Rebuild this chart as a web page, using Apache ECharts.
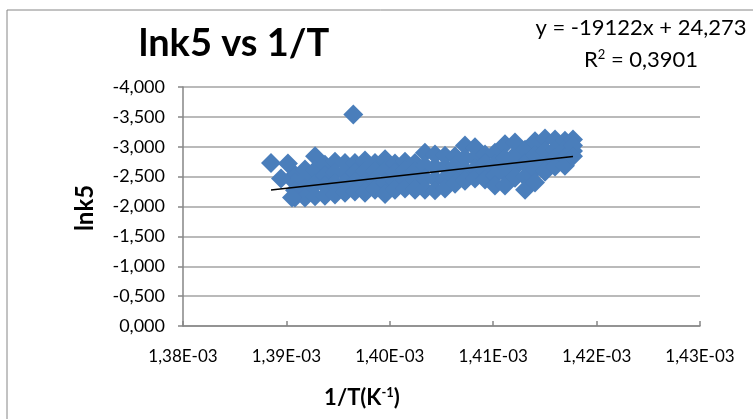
<!DOCTYPE html>
<html>
<head>
<meta charset="utf-8">
<script src="https://cdn.jsdelivr.net/npm/echarts@6/dist/echarts.min.js"></script>
<style>
  html, body { margin: 0; padding: 0; background: #fff; }
  #chart { width: 753px; height: 419px; }
</style>
</head>
<body>
<div id="chart"></div>
<script>
// 1/T (x 1e-3) of each dense column of the cloud
const colInvT = [1.39083, 1.39180, 1.39277, 1.39373, 1.39470, 1.39567, 1.39663, 1.39760,
  1.39857, 1.39954, 1.40050, 1.40147, 1.40244, 1.40340, 1.40437, 1.40534, 1.40631,
  1.40727, 1.40824, 1.40921, 1.41017, 1.41114, 1.41211, 1.41308, 1.41404, 1.41501,
  1.41598, 1.41694, 1.41772];
// lnk5 read at the top, upper middle, lower middle and bottom of each column
const colTop = [-2.53, -2.62, -2.84, -2.70, -2.75, -2.73, -2.73, -2.77, -2.73, -2.79,
  -2.72, -2.75, -2.73, -2.90, -2.87, -2.85, -2.84, -3.02, -2.99, -2.87, -2.90, -3.04,
  -3.07, -2.95, -3.09, -3.14, -3.12, -3.10, -3.12];
const colUpper = [-2.40, -2.46, -2.61, -2.52, -2.57, -2.56, -2.57, -2.58, -2.58, -2.60,
  -2.57, -2.60, -2.58, -2.68, -2.66, -2.66, -2.68, -2.81, -2.81, -2.72, -2.71, -2.80,
  -2.86, -2.72, -2.85, -2.94, -2.96, -2.95, -3.02];
const colLower = [-2.27, -2.30, -2.38, -2.35, -2.38, -2.40, -2.41, -2.40, -2.43, -2.40,
  -2.42, -2.45, -2.43, -2.47, -2.46, -2.47, -2.53, -2.61, -2.63, -2.58, -2.52, -2.56,
  -2.66, -2.50, -2.62, -2.76, -2.81, -2.82, -2.93];
const colBottom = [-2.15, -2.15, -2.17, -2.18, -2.20, -2.23, -2.25, -2.23, -2.28, -2.21,
  -2.28, -2.30, -2.28, -2.28, -2.27, -2.30, -2.38, -2.43, -2.47, -2.45, -2.35, -2.35,
  -2.48, -2.28, -2.40, -2.58, -2.67, -2.68, -2.84];
// loose points on the left and the outlier
const extraInvT = [1.38851, 1.39015, 1.38948, 1.39054, 1.39647];
const extraLnk5 = [-2.73, -2.72, -2.47, -2.15, -3.54];

const trendSlope = -19122;
const trendIntercept = 24.273;
const yTicks = { min: -4, max: 0, step: 0.5 };
const xTicks = { min: 1.38e-3, max: 1.43e-3, step: 0.01e-3 };

const points = [];
colInvT.forEach((x, i) => {
  [colTop, colUpper, colLower, colBottom].forEach((arr) => {
    points.push([x * 1e-3, arr[i]]);
  });
});
extraInvT.forEach((x, i) => points.push([x * 1e-3, extraLnk5[i]]));

const xs = points.map(p => p[0]);
const xMin = Math.min(...xs);
const xMax = Math.max(...xs);
const trend = [xMin, xMax].map(x => [x, trendSlope * x + trendIntercept]);

const font = 'Lato, "Liberation Sans", sans-serif';
const chart = echarts.init(document.getElementById('chart'));
chart.setOption({
  animation: false,
  textStyle: { fontFamily: font },
  grid: { left: 183, right: 53, top: 87, bottom: 93 },
  xAxis: {
    type: 'value',
    min: xTicks.min,
    max: xTicks.max,
    interval: xTicks.step,
    axisLine: { lineStyle: { color: '#868686', width: 1.5 } },
    axisTick: { show: true, inside: true, length: 5, lineStyle: { color: '#868686', width: 1.5 } },
    splitLine: { show: false },
    axisLabel: {
      color: '#000', fontSize: 17, fontFamily: font, margin: 22,
      formatter: v => (v * 1000).toFixed(2).replace('.', ',') + 'E-03',
    },
  },
  yAxis: {
    type: 'value',
    inverse: true,
    min: yTicks.min,
    max: yTicks.max,
    interval: yTicks.step,
    axisLine: { show: true, lineStyle: { color: '#868686', width: 1.5 } },
    axisTick: { show: true, length: 5, lineStyle: { color: '#868686', width: 1.5 } },
    splitLine: { lineStyle: { color: '#a3a3a3', width: 1.5 } },
    axisLabel: {
      color: '#000', fontSize: 18, fontFamily: font, margin: 18,
      formatter: v => (Math.abs(v) < 1e-9 ? '0,000' : v.toFixed(3).replace('.', ',')),
    },
  },
  series: [
    {
      type: 'scatter',
      symbol: 'diamond',
      symbolSize: 20,
      itemStyle: { color: '#4a7ebb', opacity: 1 },
      data: points,
    },
    {
      type: 'line',
      symbol: 'none',
      lineStyle: { color: '#000', width: 1.5 },
      data: trend,
      z: 5,
    },
  ],
  graphic: [
    {
      type: 'rect', silent: true,
      shape: { x: 7, y: 10, width: 780, height: 440 },
      style: { fill: 'none', stroke: '#868686', lineWidth: 1 },
    },
    {
      type: 'text', x: 234, y: 44,
      style: { text: 'lnk5 vs 1/T', font: 'bold 38px ' + font, fill: '#000', align: 'center', verticalAlign: 'middle' },
    },
    {
      type: 'text', x: 641, y: 28,
      style: { text: 'y = -19122x + 24,273', font: '22px ' + font, fill: '#000', align: 'center', verticalAlign: 'middle' },
    },
    {
      type: 'text', x: 641, y: 60,
      style: {
        text: 'R{sup|2} = 0,3901', font: '22px ' + font, fill: '#000', align: 'center', verticalAlign: 'middle',
        rich: { sup: { fontSize: 13, fontFamily: font, padding: [0, 0, 10, 0] } },
      },
    },
    {
      type: 'text', x: 85, y: 208, rotation: Math.PI / 2,
      style: { text: 'lnk5', font: 'bold 24px ' + font, fill: '#000', align: 'center', verticalAlign: 'middle' },
    },
    {
      type: 'text', x: 362, y: 398,
      style: {
        text: '1/T(K{sup|-1})', font: 'bold 22px ' + font, fill: '#000', align: 'center', verticalAlign: 'middle',
        rich: { sup: { fontSize: 13, fontWeight: 'bold', fontFamily: font, padding: [0, 0, 10, 0] } },
      },
    },
  ],
});
</script>
</body>
</html>
